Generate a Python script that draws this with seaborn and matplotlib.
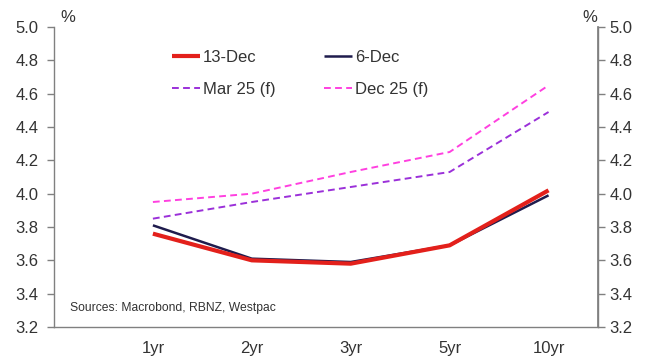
import matplotlib
matplotlib.use("Agg")
import matplotlib.pyplot as plt
import seaborn as sns
import pandas as pd

# Yield curve: wholesale rates by tenor
tenors = ["1yr", "2yr", "3yr", "5yr", "10yr"]
dec13 = [3.76, 3.60, 3.58, 3.69, 4.02]
dec6 = [3.81, 3.61, 3.59, 3.69, 3.99]
mar25_f = [3.85, 3.95, 4.04, 4.13, 4.49]
dec25_f = [3.95, 4.00, 4.13, 4.25, 4.65]

series_names = ["13-Dec", "6-Dec", "Mar 25 (f)", "Dec 25 (f)"]
yticks = [3.2, 3.4, 3.6, 3.8, 4.0, 4.2, 4.4, 4.6, 4.8, 5.0]

sns.set_theme(style="white")
plt.rcParams["font.family"] = ["Liberation Sans", "DejaVu Sans"]

df = pd.DataFrame({
    "tenor": tenors * 4,
    "pos": list(range(len(tenors))) * 4,
    "value": dec13 + dec6 + mar25_f + dec25_f,
    "series": [s for s in series_names for _ in tenors],
})

colors = {"13-Dec": "#e3201b", "6-Dec": "#1f1c4d",
          "Mar 25 (f)": "#9b30d9", "Dec 25 (f)": "#ff40e0"}
widths = {"13-Dec": 3.0, "6-Dec": 1.8, "Mar 25 (f)": 1.4, "Dec 25 (f)": 1.4}
dashes = {"13-Dec": "", "6-Dec": "", "Mar 25 (f)": (3.5, 2.2), "Dec 25 (f)": (3.5, 2.2)}

FS = 12

fig = plt.figure(figsize=(6.47, 3.60), dpi=100)
ax = fig.add_axes([54 / 647, 1 - 327 / 360, (598 - 54) / 647, 300 / 360])

txt = "#333333"
spine_c = "#808080"

# draw back-to-front so the red curve sits on top
for name in ["Dec 25 (f)", "Mar 25 (f)", "6-Dec", "13-Dec"]:
    sub = df[df["series"] == name]
    sns.lineplot(data=sub, x="pos", y="value", ax=ax, color=colors[name],
                 linewidth=widths[name], label=name,
                 linestyle="--" if dashes[name] else "-")
    line = ax.lines[-1]
    if dashes[name]:
        line.set_dashes(dashes[name])
    line.set_solid_capstyle("butt")

ax.set_xlim(-1, 4.5)
ax.set_ylim(3.2, 5.0)
ax.set_xticks(range(len(tenors)))
ax.set_xticklabels(tenors)
ax.set_yticks(yticks)
ax.set_yticklabels([f"{v:.1f}" for v in yticks])
ax.set_xlabel("")
ax.set_ylabel("")

ax.spines["top"].set_visible(False)
for side in ["left", "bottom", "right"]:
    ax.spines[side].set_color(spine_c)
    ax.spines[side].set_linewidth(1.0)

ax.tick_params(axis="both", which="major", direction="out", length=5,
               width=1.0, color=spine_c, labelsize=FS, labelcolor=txt)
ax.tick_params(axis="x", pad=5)
ax.tick_params(axis="y", left=True, pad=6)

ax2 = ax.twinx()
ax2.set_ylim(3.2, 5.0)
ax2.set_yticks(yticks)
ax2.set_yticklabels([f"{v:.1f}" for v in yticks])
for side in ["top", "left", "bottom"]:
    ax2.spines[side].set_visible(False)
ax2.spines["right"].set_color(spine_c)
ax2.tick_params(axis="y", direction="out", length=5, width=1.0, color=spine_c,
                labelsize=FS, labelcolor=txt, pad=3.5, right=True)
ax2.grid(False)
ax.grid(False)

# legend ordered as two columns of solid lines then forecasts
handles, labels = ax.get_legend_handles_labels()
lookup = dict(zip(labels, handles))
order = ["13-Dec", "Mar 25 (f)", "6-Dec", "Dec 25 (f)"]
ax.legend([lookup[k] for k in order], order, ncol=2, frameon=False,
          loc="upper left", bbox_to_anchor=(172 / 647, 1 - 50 / 360),
          bbox_transform=fig.transFigure, fontsize=FS, handlelength=1.7,
          handletextpad=0.15, columnspacing=2.9, labelspacing=1.0,
          borderaxespad=0, borderpad=0, labelcolor=txt)

fig.text(60 / 647, 1 - 17 / 360, "%", fontsize=FS, color=txt, va="center", ha="left")
fig.text(582 / 647, 1 - 17 / 360, "%", fontsize=FS, color=txt, va="center", ha="left")
fig.text(70 / 647, 1 - 308 / 360, "Sources: Macrobond, RBNZ, Westpac",
         fontsize=8.7, color=txt, va="center", ha="left")

fig.savefig("out.png", dpi=100)
